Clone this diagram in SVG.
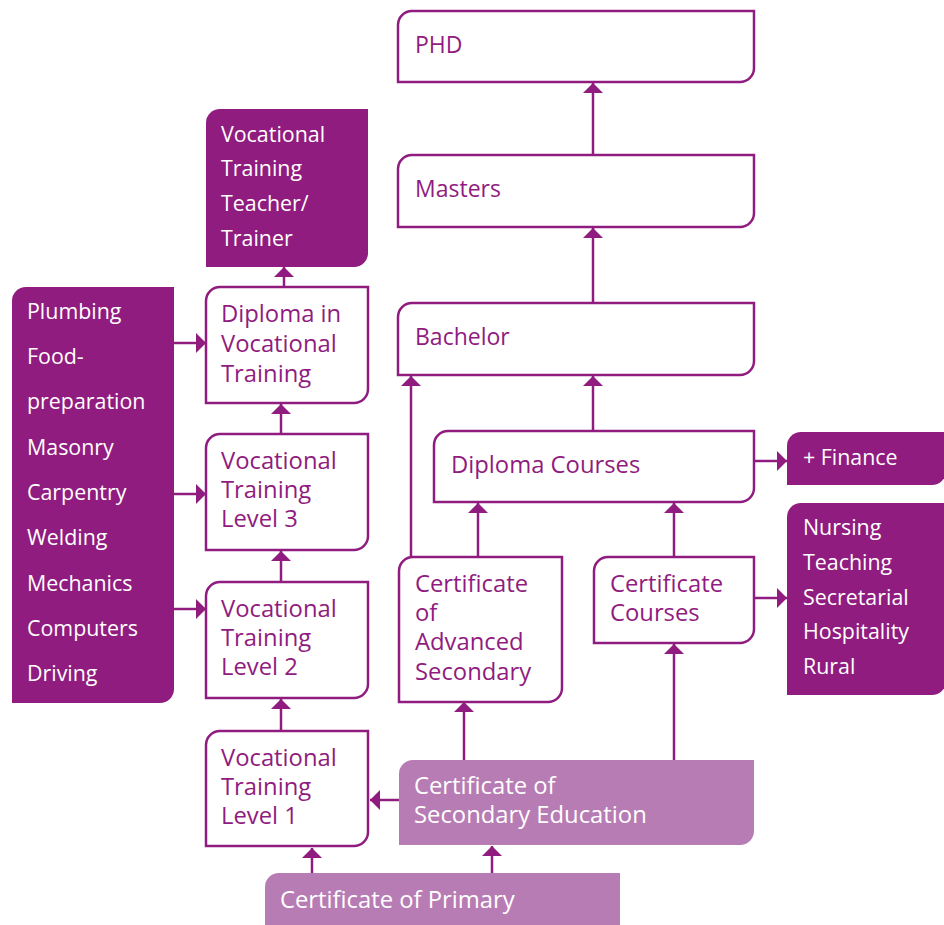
<svg xmlns="http://www.w3.org/2000/svg" width="944" height="925" viewBox="0 0 944 925">
<defs>
<marker id="ah" viewBox="0 0 10 20" refX="10" refY="10" markerWidth="10" markerHeight="20" markerUnits="userSpaceOnUse" orient="auto">
<path d="M0,0 L10,10 L0,20 Z" fill="#901c80"/>
</marker>
</defs>
<style>
.w{fill:#fff;stroke:#901c80;stroke-width:2.5}
.d{fill:#901c80}
.l{fill:#b87cb4}
.t{font-family:"Open Sans","DejaVu Sans",sans-serif;fill:#901c80}
.tw{font-family:"Open Sans","DejaVu Sans",sans-serif;fill:#fff}
.s23{font-size:23px}
.s24{font-size:23.8px}
.s21{font-size:21.4px}
.c{fill:none;stroke:#901c80;stroke-width:2.5;marker-end:url(#ah)}
</style>
<rect width="944" height="925" fill="#fff"/>
<g id="connectors">
<path class="c" d="M593,155 V83"/>
<path class="c" d="M593,303 V228"/>
<path class="c" d="M593,431 V376"/>
<path class="c" d="M411,557 V376"/>
<path class="c" d="M478,557 V503"/>
<path class="c" d="M674,557 V503"/>
<path class="c" d="M754,461 H787"/>
<path class="c" d="M754,598 H787"/>
<path class="c" d="M464,760 V702"/>
<path class="c" d="M674,760 V644"/>
<path class="c" d="M399,800 H370"/>
<path class="c" d="M492,873 V846"/>
<path class="c" d="M312,873 V848"/>
<path class="c" d="M281,731 V699"/>
<path class="c" d="M281,582 V551"/>
<path class="c" d="M281,434 V404"/>
<path class="c" d="M284,287 V267"/>
<path class="c" d="M174,343 H206"/>
<path class="c" d="M174,494 H206"/>
<path class="c" d="M174,609 H206"/>
</g>
<g id="phd">
<path class="w" d="M398,25 A14,14 0 0 1 412,11 H754 V68 A14,14 0 0 1 740,82 H398 Z"/>
<text class="t s23" x="415" y="53">PHD</text>
</g>
<g id="masters">
<path class="w" d="M398,169 A14,14 0 0 1 412,155 H754 V213 A14,14 0 0 1 740,227 H398 Z"/>
<text class="t s23" x="415" y="197">Masters</text>
</g>
<g id="bachelor">
<path class="w" d="M398,317 A14,14 0 0 1 412,303 H754 V361 A14,14 0 0 1 740,375 H398 Z"/>
<text class="t s23" x="415" y="345">Bachelor</text>
</g>
<g id="diploma-courses">
<path class="w" d="M434,445 A14,14 0 0 1 448,431 H754 V488 A14,14 0 0 1 740,502 H434 Z"/>
<text class="t s24" x="451" y="473">Diploma Courses</text>
</g>
<g id="finance">
<path class="d" d="M787,446 A14,14 0 0 1 801,432 H946 V471 A14,14 0 0 1 932,485 H787 Z"/>
<text class="tw s21" x="803" y="465">+ Finance</text>
</g>
<g id="cert-advanced">
<path class="w" d="M399,571 A14,14 0 0 1 413,557 H562 V688 A14,14 0 0 1 548,702 H399 Z"/>
<text class="t s24"><tspan x="415" y="592">Certificate</tspan><tspan x="415" y="621">of</tspan><tspan x="415" y="650">Advanced</tspan><tspan x="415" y="680">Secondary</tspan></text>
</g>
<g id="cert-courses">
<path class="w" d="M594,571 A14,14 0 0 1 608,557 H754 V629 A14,14 0 0 1 740,643 H594 Z"/>
<text class="t s24"><tspan x="610" y="592">Certificate</tspan><tspan x="610" y="621">Courses</tspan></text>
</g>
<g id="courses-list">
<path class="d" d="M787,517 A14,14 0 0 1 801,503 H946 V681 A14,14 0 0 1 932,695 H787 Z"/>
<text class="tw s21"><tspan x="803" y="535">Nursing</tspan><tspan x="803" y="570">Teaching</tspan><tspan x="803" y="605">Secretarial</tspan><tspan x="803" y="639">Hospitality</tspan><tspan x="803" y="674">Rural</tspan></text>
</g>
<g id="vt-teacher">
<path class="d" d="M206,123 A14,14 0 0 1 220,109 H368 V253 A14,14 0 0 1 354,267 H206 Z"/>
<text class="tw s21"><tspan x="221" y="142">Vocational</tspan><tspan x="221" y="176">Training</tspan><tspan x="221" y="211">Teacher/</tspan><tspan x="221" y="246">Trainer</tspan></text>
</g>
<g id="diploma-vt">
<path class="w" d="M206,301 A14,14 0 0 1 220,287 H368 V389 A14,14 0 0 1 354,403 H206 Z"/>
<text class="t s24"><tspan x="221" y="322">Diploma in</tspan><tspan x="221" y="352">Vocational</tspan><tspan x="221" y="382">Training</tspan></text>
</g>
<g id="vt3">
<path class="w" d="M206,448 A14,14 0 0 1 220,434 H368 V536 A14,14 0 0 1 354,550 H206 Z"/>
<text class="t s24"><tspan x="221" y="469">Vocational</tspan><tspan x="221" y="498">Training</tspan><tspan x="221" y="527">Level 3</tspan></text>
</g>
<g id="vt2">
<path class="w" d="M206,596 A14,14 0 0 1 220,582 H368 V684 A14,14 0 0 1 354,698 H206 Z"/>
<text class="t s24"><tspan x="221" y="617">Vocational</tspan><tspan x="221" y="646">Training</tspan><tspan x="221" y="675">Level 2</tspan></text>
</g>
<g id="vt1">
<path class="w" d="M206,745 A14,14 0 0 1 220,731 H368 V832 A14,14 0 0 1 354,846 H206 Z"/>
<text class="t s24"><tspan x="221" y="766">Vocational</tspan><tspan x="221" y="795">Training</tspan><tspan x="221" y="824">Level 1</tspan></text>
</g>
<g id="trades-list">
<path class="d" d="M12,301 A14,14 0 0 1 26,287 H174 V689 A14,14 0 0 1 160,703 H12 Z"/>
<text class="tw s21"><tspan x="27" y="319">Plumbing</tspan><tspan x="27" y="364">Food-</tspan><tspan x="27" y="409">preparation</tspan><tspan x="27" y="455">Masonry</tspan><tspan x="27" y="500">Carpentry</tspan><tspan x="27" y="545">Welding</tspan><tspan x="27" y="591">Mechanics</tspan><tspan x="27" y="636">Computers</tspan><tspan x="27" y="681">Driving</tspan></text>
</g>
<g id="cert-secondary">
<path class="l" d="M399,774 A14,14 0 0 1 413,760 H754 V831 A14,14 0 0 1 740,845 H399 Z"/>
<text class="tw s24"><tspan x="414" y="794">Certificate of</tspan><tspan x="414" y="823">Secondary Education</tspan></text>
</g>
<g id="cert-primary">
<path class="l" d="M265,887 A14,14 0 0 1 279,873 H620 V925 H265 Z"/>
<text class="tw s24" x="280" y="908">Certificate of Primary</text>
</g>
</svg>
